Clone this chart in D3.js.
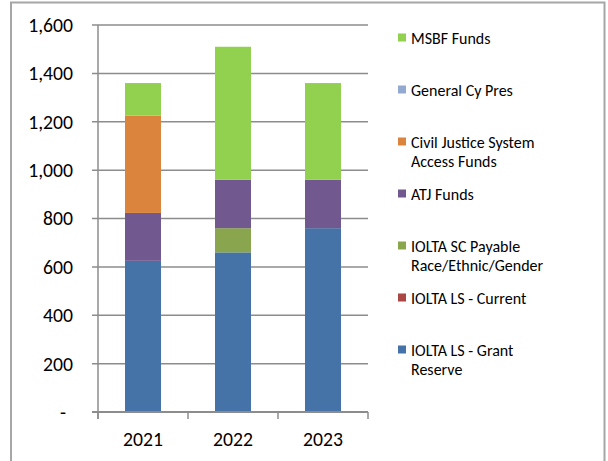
<!DOCTYPE html>
<html><head><meta charset="utf-8">
<script src="https://cdn.jsdelivr.net/npm/d3@7"></script>
<style>body{margin:0;background:#fff}svg{display:block}</style>
</head><body>
<svg id="c" width="608" height="461"></svg>
<script>
const years = ["2021", "2022", "2023"];
const seriesNames = ["IOLTA LS - Grant Reserve", "IOLTA LS - Current", "IOLTA SC Payable Race/Ethnic/Gender", "ATJ Funds", "Civil Justice System Access Funds", "General Cy Pres", "MSBF Funds"];
const grantReserve = [625, 660, 760];
const lsCurrent = [0, 0, 0];
const scPayable = [0, 100, 0];
const atjFunds = [198, 200, 200];
const civilJustice = [402, 0, 0];
const cyPres = [0, 0, 0];
const msbfFunds = [135, 550, 400];
const colors = ["#4572a7", "#aa4643", "#89a54e", "#71588f", "#db843d", "#93a9cf", "#92d050"];
const legendLines = [["MSBF Funds"], ["General Cy Pres"], ["Civil Justice System", "Access Funds"], ["ATJ Funds"], ["IOLTA SC Payable", "Race/Ethnic/Gender"], ["IOLTA LS - Current"], ["IOLTA LS - Grant", "Reserve"]];
const legendColors = ["#92d050", "#93a9cf", "#db843d", "#71588f", "#89a54e", "#aa4643", "#4572a7"];
const yTicks = [0, 200, 400, 600, 800, 1000, 1200, 1400, 1600];

const allSeries = [grantReserve, lsCurrent, scPayable, atjFunds, civilJustice, cyPres, msbfFunds];
const table = years.map((y, i) => {
  const o = {year: y};
  seriesNames.forEach((s, k) => o[s] = allSeries[k][i]);
  return o;
});
const stacked = d3.stack().keys(seriesNames)(table);

const svg = d3.select("#c");
const font = "Carlito, Lato, 'Liberation Sans', sans-serif";

// outer border
svg.append("rect").attr("x", 11).attr("y", 2.5).attr("width", 593.5).attr("height", 470)
  .attr("fill", "none").attr("stroke", "#a6a6a6").attr("stroke-width", 2);

const x = d3.scaleBand().domain(years).range([98, 368]).paddingInner(0.6).paddingOuter(0.3);
const y = d3.scaleLinear().domain([0, 1600]).range([412, 25]);

// gridlines
svg.append("g").selectAll("line").data(yTicks).join("line")
  .attr("x1", 92).attr("x2", 368).attr("y1", d => y(d)).attr("y2", d => y(d))
  .attr("stroke", "#8c8c8c").attr("stroke-width", 1.5);

// bars
svg.append("g").selectAll("g").data(stacked).join("g")
  .attr("fill", (d, i) => colors[i])
  .selectAll("rect").data(d => d.filter(p => p[1] - p[0] > 0)).join("rect")
  .attr("x", d => x(d.data.year)).attr("width", x.bandwidth())
  .attr("y", d => y(d[1])).attr("height", d => y(d[0]) - y(d[1]));

// y axis line
svg.append("line").attr("x1", 98).attr("x2", 98).attr("y1", y(1600)).attr("y2", 419)
  .attr("stroke", "#8c8c8c").attr("stroke-width", 1.5);
// x axis tick marks at band boundaries
const xb = [98, 188, 278, 368];
svg.append("g").selectAll("line").data(xb).join("line")
  .attr("x1", d => d).attr("x2", d => d).attr("y1", 412).attr("y2", 419)
  .attr("stroke", "#8c8c8c").attr("stroke-width", 1.5);
svg.append("line").attr("x1", 92).attr("x2", 368).attr("y1", 412).attr("y2", 412)
  .attr("stroke", "#8c8c8c").attr("stroke-width", 2);

// y labels
const fmt = d3.format(",");
svg.append("g").selectAll("text").data(yTicks).join("text")
  .attr("x", d => d === 0 ? 63 : 73).attr("y", d => y(d)).attr("dy", "0.35em")
  .attr("text-anchor", d => d === 0 ? "middle" : "end")
  .attr("font-family", font).attr("font-size", 19.7).attr("fill", "#000")
  .text(d => d === 0 ? "-" : fmt(d));

// x labels
svg.append("g").selectAll("text").data(years).join("text")
  .attr("x", d => x(d) + x.bandwidth() / 2).attr("y", 446)
  .attr("text-anchor", "middle").attr("font-family", font).attr("font-size", 19.7)
  .text(d => d);

// legend
const lg = svg.append("g").selectAll("g").data(legendLines).join("g")
  .attr("transform", (d, i) => `translate(398, ${38 + i * 52})`);
lg.append("rect").attr("x", 0).attr("y", -4.5).attr("width", 8).attr("height", 8)
  .attr("fill", (d, i) => legendColors[i]);
lg.append("text").attr("x", 13).attr("y", 0)
  .attr("font-family", font).attr("font-size", 16).attr("fill", "#000")
  .selectAll("tspan").data(d => d).join("tspan")
  .attr("x", 13).attr("dy", (d, i) => i === 0 ? "0.35em" : 19)
  .text(d => d);
</script>
</body></html>
